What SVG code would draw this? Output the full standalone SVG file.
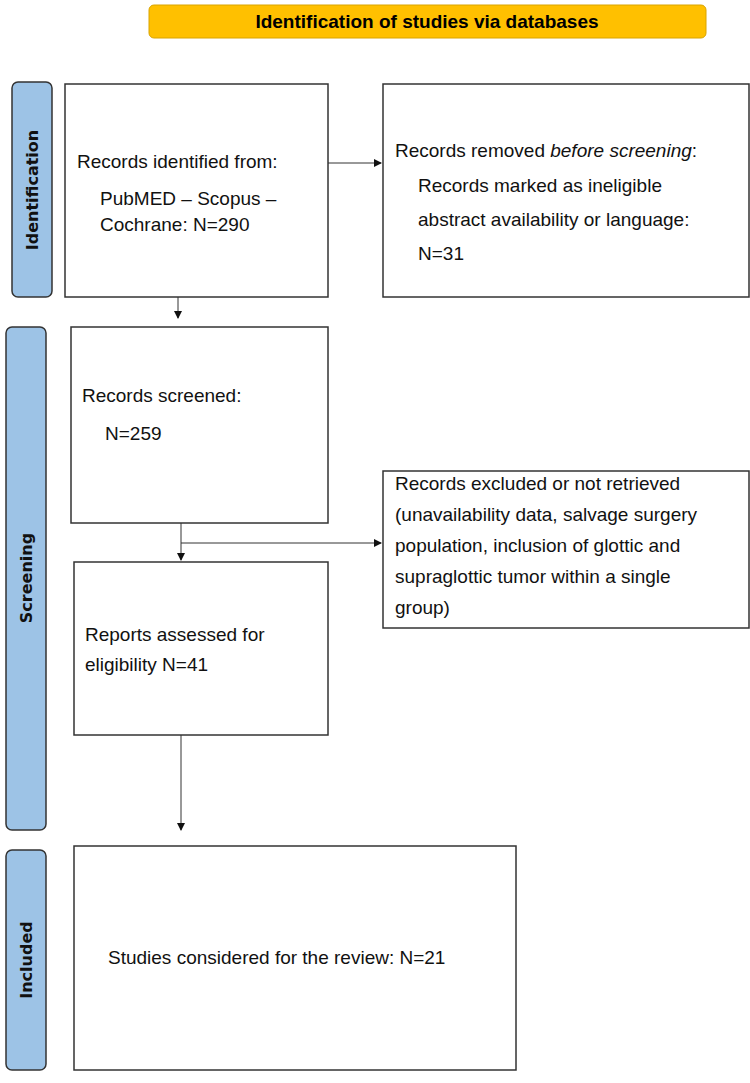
<svg xmlns="http://www.w3.org/2000/svg" width="750" height="1083" viewBox="0 0 750 1083">
<style>
.box{fill:#fff;stroke:#333;stroke-width:1.5}
.tab{fill:#9DC3E6;stroke:#333;stroke-width:1.5}
.t{font-family:"Liberation Sans",Arial,sans-serif;font-size:19px;fill:#111}
.tb{font-family:"DejaVu Sans",sans-serif;font-size:16px;font-weight:bold;fill:#111}
.c{stroke:#333;stroke-width:1;fill:none}
</style>
<defs><marker id="a" markerWidth="8" markerHeight="8" refX="7" refY="4" orient="auto" markerUnits="userSpaceOnUse"><path d="M0,0L8,4L0,8Z" fill="#111"/></marker></defs>
<g id="header"><rect x="149" y="5" width="557" height="33" rx="5" fill="#FFC000" stroke="#D9A400"/><text x="427" y="28" text-anchor="middle" font-family="Liberation Sans,Arial,sans-serif" font-size="19" font-weight="bold">Identification of studies via databases</text></g>
<g id="tab-identification"><rect class="tab" x="12" y="82" width="40" height="215" rx="6"/><text class="tb" transform="translate(38,190) rotate(-90)" text-anchor="middle">Identification</text></g>
<g id="tab-screening"><rect class="tab" x="6" y="327" width="40" height="503" rx="6"/><text class="tb" transform="translate(32,578) rotate(-90)" text-anchor="middle">Screening</text></g>
<g id="tab-included"><rect class="tab" x="6" y="850" width="40" height="220" rx="6"/><text class="tb" transform="translate(32,960) rotate(-90)" text-anchor="middle">Included</text></g>
<g id="n1"><rect class="box" x="65" y="84" width="263" height="213"/><text class="t" x="77" y="168">Records identified from:</text><text class="t" x="100" y="205">PubMED – Scopus –</text><text class="t" x="100" y="231">Cochrane: N=290</text></g>
<g id="n2"><rect class="box" x="383" y="84" width="366" height="213"/><text class="t" x="395" y="157">Records removed <tspan font-style="italic">before screening</tspan>:</text><text class="t" x="418" y="192">Records marked as ineligible</text><text class="t" x="418" y="226">abstract availability or language:</text><text class="t" x="418" y="260">N=31</text></g>
<g id="n3"><rect class="box" x="71" y="327" width="257" height="196"/><text class="t" x="82" y="402">Records screened:</text><text class="t" x="105" y="440">N=259</text></g>
<g id="n4"><rect class="box" x="383" y="471" width="366" height="157"/><text class="t" x="395" y="490">Records excluded or not retrieved</text><text class="t" x="395" y="521">(unavailability data, salvage surgery</text><text class="t" x="395" y="552">population, inclusion of glottic and</text><text class="t" x="395" y="583">supraglottic tumor within a single</text><text class="t" x="395" y="614">group)</text></g>
<g id="n5"><rect class="box" x="74" y="562" width="254" height="173"/><text class="t" x="85" y="641">Reports assessed for</text><text class="t" x="85" y="671">eligibility  N=41</text></g>
<g id="n6"><rect class="box" x="74" y="846" width="442" height="224"/><text class="t" x="108" y="964">Studies considered for the review: N=21</text></g>
<g id="connectors">
<path class="c" d="M328,163H381" marker-end="url(#a)"/>
<path class="c" d="M178,297V318" marker-end="url(#a)"/>
<path class="c" d="M181,523V560" marker-end="url(#a)"/>
<path class="c" d="M181,543H381" marker-end="url(#a)"/>
<path class="c" d="M181,735V830" marker-end="url(#a)"/>
</g>
</svg>
